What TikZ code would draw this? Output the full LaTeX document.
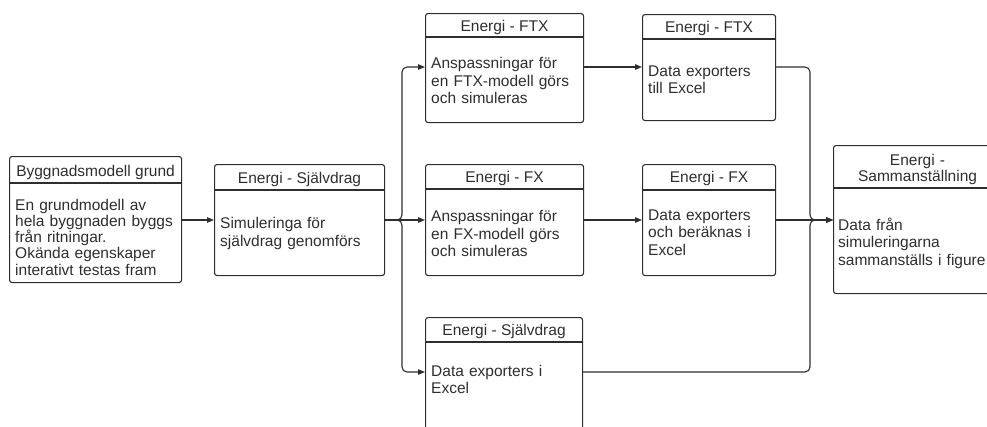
\documentclass[tikz,border=0pt]{standalone}
\usepackage{fontspec}
\setmainfont{Liberation Sans}
\usetikzlibrary{arrows.meta,positioning}
\definecolor{ink}{HTML}{2E2E2E}
\tikzset{
	box/.style={draw=ink,line width=1.1pt,rounded corners=2.5pt,anchor=north west,inner sep=0pt},
	sep/.style={draw=ink,line width=1.1pt},
	head/.style={anchor=base,inner sep=0pt,text=ink,align=center,font=\fontsize{15.5}{16.7}\selectfont},
	body/.style={anchor=base west,inner sep=0pt,text=ink,align=left,text width=160pt,font=\fontsize{15.5}{17.6}\selectfont},
	flow/.style={draw=ink,line width=1.1pt,rounded corners=5pt,-{Triangle[length=7pt,width=5.5pt]}}
}

\begin{document}
\begin{tikzpicture}[x=1pt,y=-1pt]
	\useasboundingbox (0,0) rectangle (987,426);
	\clip (0,0) rectangle (987,426);
	% rows and branch lines
	\node[coordinate] (top) at (0,67) {};
	\node[coordinate] (mid) at (0,220) {};
	\node[coordinate] (bot) at (0,372) {};
	\node[coordinate] (split) at (402,0) {};
	\node[coordinate] (merge) at (810,0) {};

	% Byggnadsmodell grund
	\node[box,minimum width=172pt,minimum height=126pt] (grund) at (9,156) {};
	\draw[sep] (grund.west |- 0,183) -- (grund.east |- 0,183);
	\node[head] at (grund.north |- 0,176) {Byggnadsmodell grund};
	\node[body,xshift=6pt,font=\fontsize{15.5}{16.3}\selectfont] at (grund.west |- 0,210) {En grundmodell av\\hela byggnaden byggs\\från ritningar.\\Okända egenskaper\\interativt testas fram};

	% simulering självdrag
	\node[box,minimum width=170pt,minimum height=111pt] (sjv) at (214,164) {};
	\draw[sep] (sjv.west |- 0,190) -- (sjv.east |- 0,190);
	\node[head] at (sjv.north |- 0,183.5) {Energi - Självdrag};
	\node[body,xshift=6pt] at (sjv.west |- 0,228.5) {Simuleringa för\\självdrag genomförs};

	% FTX
	\node[box,minimum width=158pt,minimum height=109pt] (ftx) at (425,13) {};
	\draw[sep] (ftx.west |- 0,37) -- (ftx.east |- 0,37);
	\node[head] at (ftx.north |- 0,31.5) {Energi - FTX};
	\node[body,xshift=6pt] at (ftx.west |- 0,68.5) {Anspassningar för\\en FTX-modell görs\\och simuleras};

	\node[box,minimum width=133pt,minimum height=106pt] (ftxd) at (642,14) {};
	\draw[sep] (ftxd.west |- 0,39) -- (ftxd.east |- 0,39);
	\node[head] at (ftxd.north |- 0,32.5) {Energi - FTX};
	\node[body,xshift=6pt] at (ftxd.west |- 0,76) {Data exporters\\till Excel};

	% FX
	\node[box,minimum width=158pt,minimum height=111pt] (fx) at (425,164) {};
	\draw[sep] (fx.west |- 0,189) -- (fx.east |- 0,189);
	\node[head] at (fx.north |- 0,182.5) {Energi - FX};
	\node[body,xshift=6pt] at (fx.west |- 0,221.5) {Anspassningar för\\en FX-modell görs\\och simuleras};

	\node[box,minimum width=133pt,minimum height=111pt] (fxd) at (642,164) {};
	\draw[sep] (fxd.west |- 0,190) -- (fxd.east |- 0,190);
	\node[head] at (fxd.north |- 0,182.5) {Energi - FX};
	\node[body,xshift=6pt] at (fxd.west |- 0,220) {Data exporters\\och beräknas i\\Excel};

	% data självdrag
	\node[box,minimum width=157pt,minimum height=130pt] (sjd) at (425,317) {};
	\draw[sep] (sjd.west |- 0,342) -- (sjd.east |- 0,342);
	\node[head] at (sjd.north |- 0,335.5) {Energi - Självdrag};
	\node[body,xshift=6pt] at (sjd.west |- 0,376) {Data exporters i\\Excel};

	% sammanställning
	\node[box,minimum width=168pt,minimum height=148pt] (sum) at (833,145) {};
	\draw[sep] (sum.west |- 0,188) -- (sum.east |- 0,188);
	\node[head,text width=168pt] at (sum.north |- 0,165) {Energi -\\Sammanställning};
	\node[body,xshift=5pt] at (sum.west |- 0,230) {Data från\\simuleringarna\\sammanställs i figure};

	% connectors
	\draw[flow] (grund.east |- mid) -- (sjv.west |- mid);
	\draw[flow] (sjv.east |- mid) -- (fx.west |- mid);
	\draw[flow] (sjv.east |- mid) -- (split |- mid) -- (split |- top) -- (ftx.west |- top);
	\draw[flow] (sjv.east |- mid) -- (split |- mid) -- (split |- bot) -- (sjd.west |- bot);
	\draw[flow] (ftx.east |- top) -- (ftxd.west |- top);
	\draw[flow] (fx.east |- mid) -- (fxd.west |- mid);
	\draw[flow] (ftxd.east |- top) -- (merge |- top) -- (merge |- mid) -- (sum.west |- mid);
	\draw[flow] (fxd.east |- mid) -- (sum.west |- mid);
	\draw[flow] (sjd.east |- bot) -- (merge |- bot) -- (merge |- mid) -- (sum.west |- mid);
\end{tikzpicture}
\end{document}
